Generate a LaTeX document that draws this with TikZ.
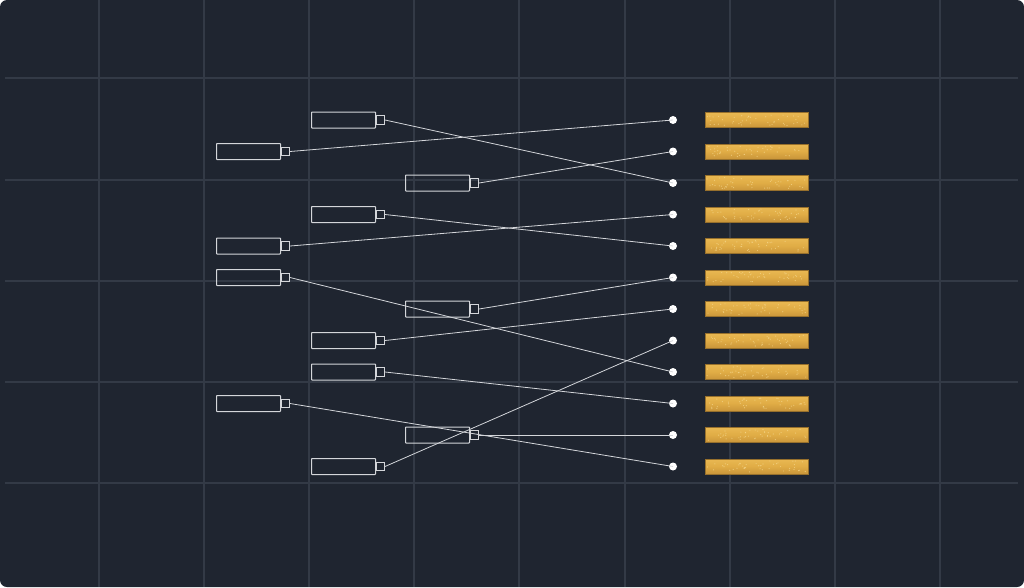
\documentclass[tikz,border=0pt]{standalone}
\usepackage{tikz}
\usetikzlibrary{positioning}

\definecolor{bgdark}{HTML}{1F2530}
\definecolor{gridline}{HTML}{333A46}
\definecolor{wirewhite}{HTML}{D4D6DA}
\definecolor{goldtop}{HTML}{E9B852}
\definecolor{goldmid}{HTML}{E0AC45}
\definecolor{goldbot}{HTML}{C9953A}
\definecolor{goldspeck}{HTML}{F6D98F}

\tikzset{
    cable box/.style={draw=wirewhite, line width=1pt, rounded corners=0.6pt, minimum width=64pt, minimum height=16pt, inner sep=0pt, anchor=west},
    plug/.style={draw=wirewhite, line width=1pt, minimum width=8pt, minimum height=8.5pt, inner sep=0pt},
    wire/.style={wirewhite, line width=0.8pt},
    pin dot/.style={circle, fill=white, minimum size=8pt, inner sep=0pt},
    gold bar/.style={minimum width=103pt, minimum height=15pt, inner sep=0pt, top color=goldtop, bottom color=goldbot, middle color=goldmid, draw=goldbot!75!black, line width=0.4pt}
}

\begin{document}
\begin{tikzpicture}[x=1pt,y=-1pt]

    % 背景
    \fill[white] (0,0) rectangle (1024,587);
    \fill[bgdark, rounded corners=7pt] (0,0) rectangle (1024,587);
    \useasboundingbox (0,0) rectangle (1024,587);

    % 网格
    \foreach \gx in {99,204,309,414,519,625,730,835,940} {
        \draw[gridline, line width=1.1pt] (\gx,0) -- (\gx,587);
    }
    \foreach \gy in {78,180,281,382,483} {
        \draw[gridline, line width=1.1pt] (5,\gy) -- (1018,\gy);
    }

    % 行距
    \def\rowy{31.5}

    % 白点和金条
    \pgfmathsetseed{7}
    \foreach \j in {1,...,12} {
        \pgfmathsetmacro\y{120+(\j-1)*\rowy}
        \node[gold bar] (b\j) at (756.5,\y) {};
        % 金条上的颗粒
        \foreach \s in {1,...,45} {
            \pgfmathsetmacro\sx{707+99*rnd}
            \pgfmathsetmacro\sy{\y-5.5+11*rnd}
            \fill[goldspeck, opacity=0.7] (\sx,\sy) circle (0.6pt);
        }
        \node[pin dot] (d\j) at (673,\y) {};
    }

    % 线缆: 行/左边x/目标点
    \foreach \i/\cx/\dst in {1/311/3, 2/216/1, 3/405/2, 4/311/5, 5/216/4, 6/216/9,
                             7/405/6, 8/311/7, 9/311/10, 10/216/12, 11/405/11, 12/311/8} {
        \pgfmathsetmacro\y{120+(\i-1)*\rowy}
        \node[cable box] (c\i) at (\cx,\y) {};
        \node[plug, right=0pt of c\i] (p\i) {};
        \draw[wire] (p\i.east) -- (d\dst.center);
    }

\end{tikzpicture}
\end{document}
